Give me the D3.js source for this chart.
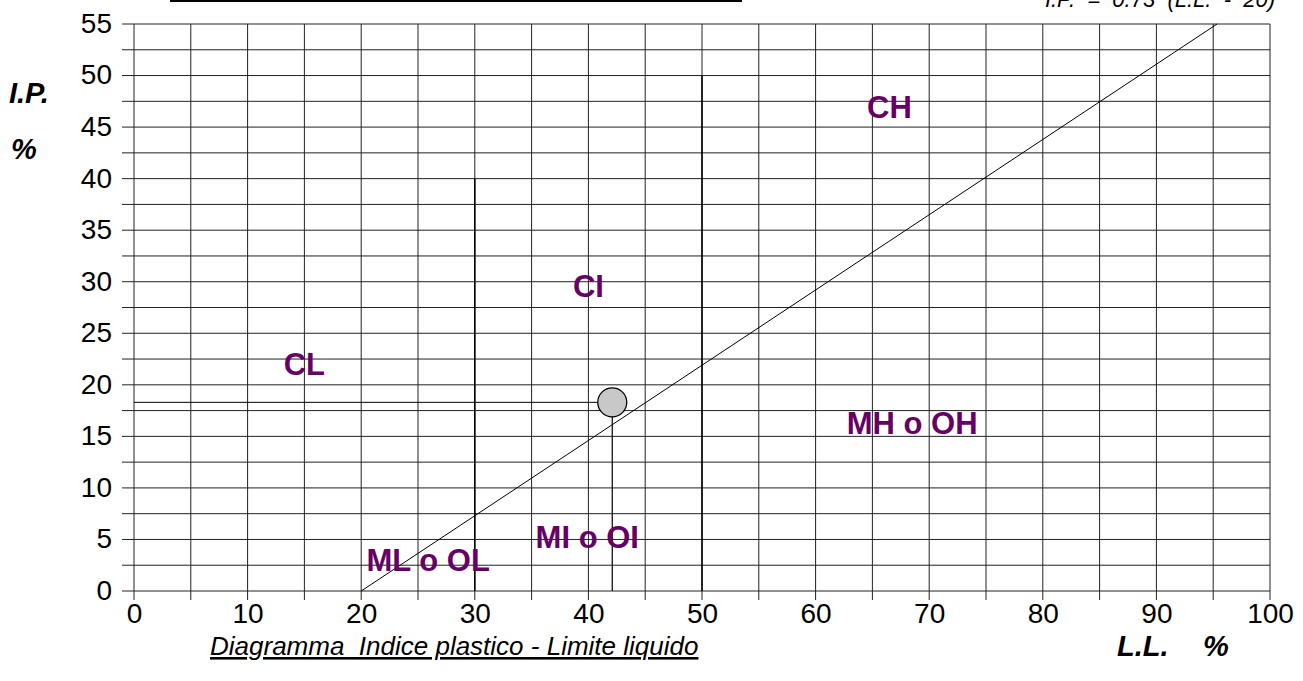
<!DOCTYPE html>
<html><head><meta charset="utf-8">
<script src="https://cdn.jsdelivr.net/npm/d3@7"></script>
<style>body{margin:0;background:#fff}svg{display:block;font-family:"Liberation Sans",Arial,sans-serif}</style>
</head><body><svg id="c" width="1303" height="681"></svg>
<script>
const xTicks = [0,10,20,30,40,50,60,70,80,90,100];
const yTicks = [0,5,10,15,20,25,30,35,40,45,50,55];
const xGrid = d3.range(0,101,5);
const yGrid = d3.range(0,55.1,2.5);
const aLineLL = [20, 95.34];
const sampleLL = [42.1];
const sampleIP = [18.3];
const zoneNames = ["CH","CI","CL","MH o OH","MI o OI","ML o OL"];
const zoneLL = [66.5, 40.0, 15.0, 68.5, 39.9, 25.9];
const zoneIP = [47.0, 29.6, 22.0, 16.3, 5.3, 3.0];

const svg = d3.select("#c");
const x = d3.scaleLinear().domain([0,100]).range([134,1270]);
const y = d3.scaleLinear().domain([0,55]).range([591,24]);

// grid
svg.append("g").selectAll("line").data(xGrid).join("line")
  .attr("x1",d=>x(d)).attr("x2",d=>x(d)).attr("y1",y(55)).attr("y2",y(0)+9)
  .attr("stroke","#222").attr("stroke-width",1);
svg.append("g").selectAll("line").data(yGrid).join("line")
  .attr("x1",x(0)-12).attr("x2",x(100)).attr("y1",d=>y(d)).attr("y2",d=>y(d))
  .attr("stroke","#222").attr("stroke-width",1);
// boundary lines
svg.append("line").attr("x1",x(30)).attr("x2",x(30)).attr("y1",y(40)).attr("y2",y(0)).attr("stroke","#000").attr("stroke-width",1.5);
svg.append("line").attr("x1",x(50)).attr("x2",x(50)).attr("y1",y(50)).attr("y2",y(0)).attr("stroke","#000").attr("stroke-width",1.5);

// axes labels
const yAxis = d3.axisLeft(y).tickValues(yTicks).tickSize(0).tickPadding(0);
const gy = svg.append("g").attr("transform",`translate(${x(0)-22},0)`).call(yAxis);
gy.select(".domain").remove();
gy.selectAll("text").attr("font-size",28).attr("fill","#000").attr("dy","0.3em").attr("font-family","Liberation Sans, Arial, sans-serif");
const xAxis = d3.axisBottom(x).tickValues(xTicks).tickSize(0).tickPadding(0);
const gx = svg.append("g").attr("transform",`translate(0,${y(0)+12})`).call(xAxis);
gx.select(".domain").remove();
gx.selectAll("text").attr("font-size",28).attr("fill","#000").attr("font-family","Liberation Sans, Arial, sans-serif");

// A-line
svg.append("line").attr("x1",x(aLineLL[0])).attr("y1",y(0))
  .attr("x2",x(aLineLL[1])).attr("y2",y(0.73*(aLineLL[1]-20)))
  .attr("stroke","#000").attr("stroke-width",1);

// sample point
sampleLL.forEach((ll,i)=>{
  const ip = sampleIP[i];
  svg.append("line").attr("x1",x(0)).attr("x2",x(ll)).attr("y1",y(ip)).attr("y2",y(ip)).attr("stroke","#000").attr("stroke-width",1);
  svg.append("line").attr("x1",x(ll)).attr("x2",x(ll)).attr("y1",y(ip)).attr("y2",y(0)).attr("stroke","#000").attr("stroke-width",1.2);
  svg.append("circle").attr("cx",x(ll)).attr("cy",y(ip)).attr("r",14.5)
    .attr("fill","#c8c8c8").attr("stroke","#000").attr("stroke-width",1.3);
});

// zone labels
svg.append("g").selectAll("text").data(zoneNames).join("text")
  .attr("x",(d,i)=>x(zoneLL[i])).attr("y",(d,i)=>y(zoneIP[i]))
  .attr("text-anchor","middle").attr("dy","0.36em")
  .attr("font-size",31).attr("font-weight","bold").attr("fill","#660066").text(d=>d);

// titles
svg.append("text").attr("x",9).attr("y",103).attr("font-size",29).attr("font-weight","bold").attr("font-style","italic").text("I.P.");
svg.append("text").attr("x",11).attr("y",159).attr("font-size",29).attr("font-weight","bold").attr("font-style","italic").text("%");
svg.append("text").attr("x",1117).attr("y",656).attr("font-size",29).attr("font-weight","bold").attr("font-style","italic").text("L.L.");
svg.append("text").attr("x",1203).attr("y",656).attr("font-size",29).attr("font-weight","bold").attr("font-style","italic").text("%");
svg.append("text").attr("x",210).attr("y",655).attr("font-size",26).attr("font-style","italic")
  .attr("text-decoration","underline").text("Diagramma\u00a0 Indice plastico - Limite liquido");
svg.append("text").attr("x",1275).attr("y",7).attr("text-anchor","end").attr("font-size",22).attr("font-style","italic")
  .text("I.P.\u00a0 = \u00a00.73\u00a0 (L.L.\u00a0 - \u00a020)");
svg.append("line").attr("x1",170).attr("x2",742).attr("y1",1).attr("y2",1).attr("stroke","#000").attr("stroke-width",2);
</script></body></html>
